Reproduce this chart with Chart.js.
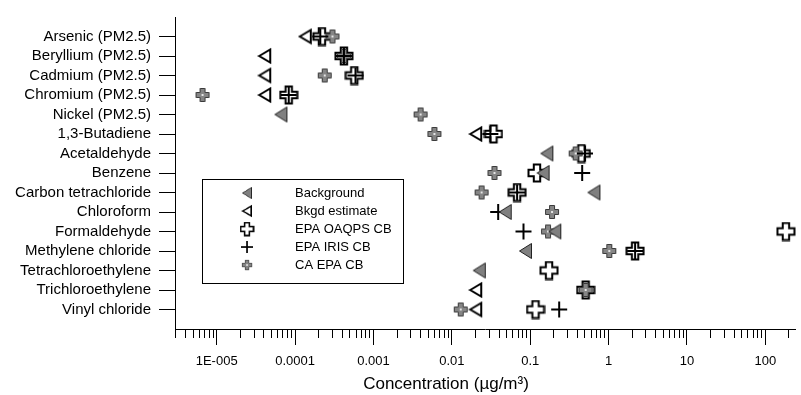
<!DOCTYPE html>
<html>
<head>
<meta charset="utf-8">
<script src="https://cdn.jsdelivr.net/npm/chart.js@4.4.0/dist/chart.umd.min.js"></script>
<style>
  html, body { margin: 0; padding: 0; background: #fff; }
  #wrap { width: 801px; height: 395px; }
</style>
</head>
<body>
<div id="wrap"><canvas id="chart" width="801" height="395"></canvas></div>
<script>
const FONT = "'Liberation Sans', Arial, Helvetica, sans-serif";

const CATEGORIES = [
  "Arsenic (PM2.5)", "Beryllium (PM2.5)", "Cadmium (PM2.5)", "Chromium (PM2.5)", "Nickel (PM2.5)",
  "1,3-Butadiene", "Acetaldehyde", "Benzene", "Carbon tetrachloride", "Chloroform",
  "Formaldehyde", "Methylene chloride", "Tetrachloroethylene", "Trichloroethylene", "Vinyl chloride",
];

// concentrations in ug/m3, null = no mark for that row
const BACKGROUND    = [null, null, null, null, 6.6e-5, null, 0.163, 0.146, 0.65, 0.048, 0.206, 0.087, 0.0224, null, null];
const BKGD_ESTIMATE = [1.35e-4, 4.1e-5, 4.1e-5, 4.1e-5, null, 0.0202, null, null, null, null, null, null, null, 0.0202, 0.0202];
const EPA_OAQPS     = [2.2e-4, 4.2e-4, 5.7e-4, 8.3e-5, null, 0.034, 0.45, 0.122, 0.068, null, 183, 2.18, 0.174, 0.51, 0.117];
const EPA_IRIS      = [2.1e-4, 4.2e-4, 5.9e-4, 8.3e-5, null, 0.031, 0.5, 0.46, 0.068, 0.039, 0.082, 2.18, null, null, 0.234];
const CA_EPA        = [3.0e-4, 4.2e-4, 2.39e-4, 6.6e-6, 4.0e-3, 6.0e-3, 0.38, 0.035, 0.024, 0.19, 0.169, 1.02, null, 0.51, 0.013];

const X_MIN = 2.94e-6;
const X_MAX = 239;
const X_TICK_VALUES = [1e-5, 1e-4, 1e-3, 1e-2, 1e-1, 1, 10, 100];
const X_TICK_LABELS = ["1E-005", "0.0001", "0.001", "0.01", "0.1", "1", "10", "100"];
const X_TITLE = "Concentration (\u00b5g/m\u00b3)";

function makeMarker(w, h, draw) {
  const c = document.createElement("canvas");
  c.width = w;
  c.height = h;
  draw(c.getContext("2d"));
  return c;
}

function crossPath(ctx, cx, cy, half, arm) {
  ctx.beginPath();
  ctx.moveTo(cx - arm, cy - half);
  ctx.lineTo(cx + arm, cy - half);
  ctx.lineTo(cx + arm, cy - arm);
  ctx.lineTo(cx + half, cy - arm);
  ctx.lineTo(cx + half, cy + arm);
  ctx.lineTo(cx + arm, cy + arm);
  ctx.lineTo(cx + arm, cy + half);
  ctx.lineTo(cx - arm, cy + half);
  ctx.lineTo(cx - arm, cy + arm);
  ctx.lineTo(cx - half, cy + arm);
  ctx.lineTo(cx - half, cy - arm);
  ctx.lineTo(cx - arm, cy - arm);
  ctx.closePath();
}

const MARKERS = {
  background: makeMarker(15, 18, (ctx) => {
    ctx.beginPath();
    ctx.moveTo(1.5, 9);
    ctx.lineTo(13.5, 1.5);
    ctx.lineTo(13.5, 16.5);
    ctx.closePath();
    ctx.fillStyle = "#808080";
    ctx.fill();
    ctx.strokeStyle = "#222";
    ctx.lineWidth = 1;
    ctx.stroke();
  }),
  estimate: makeMarker(15, 18, (ctx) => {
    ctx.beginPath();
    ctx.moveTo(2, 9);
    ctx.lineTo(13, 2.5);
    ctx.lineTo(13, 15.5);
    ctx.closePath();
    ctx.fillStyle = "#fff";
    ctx.fill();
    ctx.strokeStyle = "#000";
    ctx.lineWidth = 2;
    ctx.stroke();
  }),
  oaqps: makeMarker(20, 20, (ctx) => {
    crossPath(ctx, 10, 10, 8.5, 3.2);
    ctx.fillStyle = "#fff";
    ctx.fill();
    ctx.strokeStyle = "#000";
    ctx.lineWidth = 2;
    ctx.stroke();
  }),
  iris: makeMarker(18, 18, (ctx) => {
    ctx.strokeStyle = "#000";
    ctx.lineWidth = 2;
    ctx.beginPath();
    ctx.moveTo(1, 9);
    ctx.lineTo(17, 9);
    ctx.moveTo(9, 1);
    ctx.lineTo(9, 17);
    ctx.stroke();
  }),
  caepa: makeMarker(16, 16, (ctx) => {
    crossPath(ctx, 8, 8, 6.5, 2.5);
    ctx.fillStyle = "#858585";
    ctx.fill();
    ctx.strokeStyle = "#3a3a3a";
    ctx.lineWidth = 1;
    ctx.stroke();
    ctx.fillStyle = "#e6e6e6";
    ctx.fillRect(7, 7, 2, 2);
  }),
};

function points(values) {
  return values
    .map((v, i) => (v == null ? null : { x: v, y: i + 1 }))
    .filter((p) => p !== null);
}

const SERIES = [
  { label: "Background", values: BACKGROUND, marker: MARKERS.background, order: 0 },
  { label: "Bkgd estimate", values: BKGD_ESTIMATE, marker: MARKERS.estimate, order: 3 },
  { label: "EPA OAQPS CB", values: EPA_OAQPS, marker: MARKERS.oaqps, order: 4 },
  { label: "EPA IRIS CB", values: EPA_IRIS, marker: MARKERS.iris, order: 1 },
  { label: "CA EPA CB", values: CA_EPA, marker: MARKERS.caepa, order: 2 },
];

// legend sits inside the plot as a boxed list; axis title is drawn off-centre like the original
const annotations = {
  id: "annotations",
  afterDraw(chart) {
    const ctx = chart.ctx;
    ctx.save();
    ctx.strokeStyle = "#000";
    ctx.lineWidth = 1;
    ctx.strokeRect(202.5, 179.5, 201, 104);
    ctx.font = "13px " + FONT;
    ctx.fillStyle = "#000";
    ctx.textBaseline = "middle";
    ctx.textAlign = "left";
    SERIES.forEach((s, i) => {
      const y = 193 + i * 18;
      const m = s.marker;
      const sc = 0.75;
      ctx.drawImage(m, 247 - (m.width * sc) / 2, y - (m.height * sc) / 2, m.width * sc, m.height * sc);
      ctx.fillText(s.label, 295, y);
    });
    ctx.font = "17px " + FONT;
    ctx.textAlign = "center";
    ctx.fillText(X_TITLE, 446, 384);
    ctx.restore();
  },
};

new Chart(document.getElementById("chart"), {
  type: "scatter",
  data: {
    datasets: SERIES.map((s) => ({
      label: s.label,
      data: points(s.values),
      pointStyle: s.marker,
      pointRadius: 5,
      order: s.order,
      clip: false,
    })),
  },
  options: {
    responsive: false,
    animation: false,
    devicePixelRatio: 1,
    layout: { padding: { top: 11, right: 0, bottom: 0, left: 0 } },
    scales: {
      x: {
        type: "logarithmic",
        min: X_MIN,
        max: X_MAX,
        afterBuildTicks: (scale) => {
          const ticks = [];
          for (let e = -6; e <= 2; e++) {
            for (let d = 1; d <= 9; d++) {
              const v = d * Math.pow(10, e);
              if (v >= X_MIN && v <= X_MAX) ticks.push({ value: v, isDecade: d === 1 });
            }
          }
          scale.ticks = ticks;
        },
        afterFit: (scale) => { scale.height = 66; },
        ticks: {
          autoSkip: false,
          maxRotation: 0,
          padding: 9,
          color: "#000",
          font: { family: FONT, size: 13 },
          callback: (v) => {
            const i = X_TICK_VALUES.findIndex((t) => Math.abs(Math.log10(t) - Math.log10(v)) < 1e-6);
            return i >= 0 ? X_TICK_LABELS[i] : "";
          },
        },
        grid: {
          drawOnChartArea: false,
          tickLength: 16,
          tickColor: "#000",
          tickBorderDash: (ctx) => (ctx.tick && ctx.tick.isDecade ? [] : [8, 40]),
        },
        border: { color: "#000", width: 1 },
      },
      y: {
        type: "linear",
        min: 0,
        max: 16,
        reverse: true,
        afterBuildTicks: (scale) => {
          scale.ticks = CATEGORIES.map((_, i) => ({ value: i + 1 }));
        },
        afterFit: (scale) => { scale.width = 175; },
        ticks: {
          autoSkip: false,
          padding: 8,
          color: "#000",
          font: { family: FONT, size: 15 },
          callback: (v) => CATEGORIES[v - 1],
        },
        grid: { drawOnChartArea: false, tickLength: 16, tickColor: "#000" },
        border: { color: "#000", width: 1 },
      },
    },
    plugins: {
      legend: { display: false },
      tooltip: { enabled: false },
    },
  },
  plugins: [annotations],
});
</script>
</body>
</html>
